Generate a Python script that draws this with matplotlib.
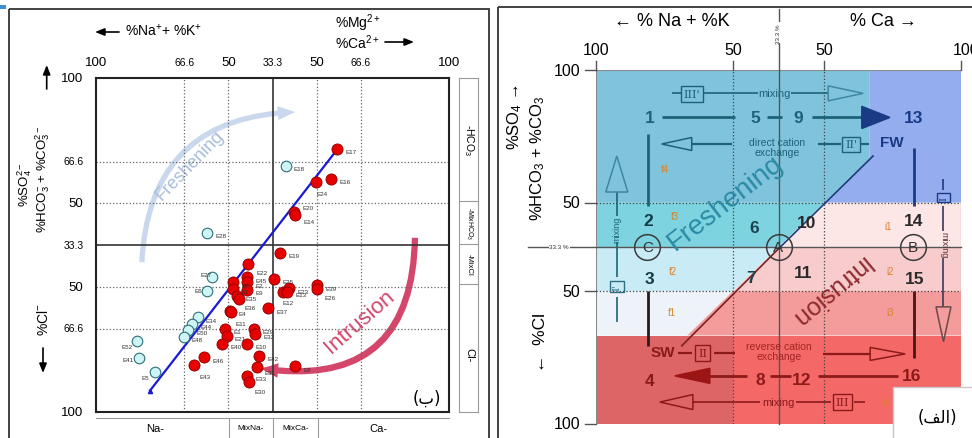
import matplotlib
matplotlib.use("Agg")
import matplotlib.pyplot as plt
from matplotlib.patches import FancyArrowPatch, Rectangle, Polygon

plt.rcParams["font.family"] = ["Liberation Sans", "DejaVu Sans"]
plt.rcParams["mathtext.fontset"] = "custom"
plt.rcParams["mathtext.rm"] = "Liberation Sans"
plt.rcParams["mathtext.it"] = "Liberation Sans:italic"
plt.rcParams["mathtext.bf"] = "Liberation Sans:bold"

W, H = 972, 439

# ---------------- data ----------------
# diagram positions (0-100 across, 0-100 upwards) and the printed percentages
grid_pos = [0, 25, 37.5, 50, 62.5, 75, 100]
top_labels = ["100", "66.6", "50", "33.3", "50", "66.6", "100"]
side_labels = ["100", "66.6", "50", "33.3", "50", "66.6", "100"]  # bottom -> top

# left panel (ب): samples
red_names = ["E17", "E16", "E24", "E20", "E14", "E19", "E22", "E45", "E2", "E9",
             "E7", "E3", "E35", "E36", "E4", "E11", "E25", "E37", "E12", "E23",
             "E13", "E39", "E26", "E1", "E21", "E40", "E29", "E32", "E10", "E42",
             "E31", "E8", "E33", "E30", "E46", "E43"]
red_x = [68.4, 66.6, 62.2, 56.1, 56.4, 52.1, 43.2, 42.7, 42.7, 42.9,
         38.9, 38.7, 39.9, 40.6, 38.0, 38.2, 50.5, 48.8, 52.9, 54.8,
         54.2, 62.7, 62.7, 36.5, 37.0, 35.6, 44.8, 45.0, 42.7, 46.3,
         45.7, 56.4, 42.7, 43.3, 30.7, 27.8]
red_y = [78.7, 69.8, 68.8, 60.0, 59.0, 47.6, 44.3, 40.3, 38.8, 36.6,
         38.8, 36.8, 34.8, 33.8, 30.3, 29.8, 39.8, 31.0, 36.0, 37.0,
         36.0, 37.9, 36.9, 24.9, 22.7, 20.4, 24.9, 23.4, 20.4, 16.9,
         13.4, 13.7, 10.9, 8.9, 16.4, 14.1]

cyan_names = ["E18", "E28", "E27", "E6", "E34", "E44", "E50", "E48", "E52", "E41", "E5"]
cyan_x = [53.7, 31.4, 32.8, 31.4, 28.8, 27.3, 26.0, 24.8, 11.5, 12.3, 16.8]
cyan_y = [73.6, 53.6, 40.3, 36.3, 28.3, 26.3, 24.5, 22.6, 21.3, 16.1, 11.9]

trend_x = [15.3, 68.4]
trend_y = [6.4, 78.7]

# right panel (الف): facies numbers
facies = ["1", "5", "9", "13", "2", "6", "10", "14", "3", "7", "11", "15", "4", "8", "12", "16"]
facies_x = [14.6, 43.6, 55.4, 86.9, 14.3, 43.3, 57.7, 86.9, 14.6, 42.4, 56.8, 87.4, 14.8, 44.9, 56.4, 86.5]
facies_y = [86.6, 86.6, 86.6, 86.6, 57.4, 55.5, 57.0, 57.4, 41.2, 41.4, 42.7, 41.0, 12.2, 12.7, 12.7, 13.6]
sub_names = ["f1", "f2", "f3", "f4", "i1", "i2", "i3", "i4"]
sub_x = [20.7, 21.2, 21.6, 18.9, 80.1, 80.5, 80.5, 79.6]
sub_y = [31.5, 43.3, 58.8, 72.0, 56.0, 43.3, 31.7, 6.2]

# ---------------- figure ----------------
fig = plt.figure(figsize=(W / 100, H / 100), dpi=100)
ov = fig.add_axes([0, 0, 1, 1])
ov.set_xlim(0, W)
ov.set_ylim(H, 0)
ov.axis("off")


def px_axes(x0, y0, x1, y1):
    return fig.add_axes([x0 / W, (H - y1) / H, (x1 - x0) / W, (y1 - y0) / H])


axL = px_axes(96, 79, 449, 413)
axR = px_axes(596, 71, 961, 425)
axL.patch.set_visible(False)

# outer frames
ov.add_patch(Rectangle((9, 10), 480, 440, fill=False, ec="#333333", lw=1.3))
ov.add_patch(Rectangle((498, 8), 490, 440, fill=False, ec="#333333", lw=1.3))
ov.add_patch(Rectangle((0, 6), 6, 4, color="#3d8fd6", lw=0))


def harrow(x0, y0, x1, y1, lw=1.2):
    ov.annotate("", xy=(x1, y1), xytext=(x0, y0),
                arrowprops=dict(arrowstyle="-|>,head_length=0.55,head_width=0.22",
                                color="black", lw=lw, shrinkA=0, shrinkB=0))


# ================= left panel =================
axL.set_xlim(0, 100)
axL.set_ylim(0, 100)
axL.set_xticks([])
axL.set_yticks([])
for s in axL.spines.values():
    s.set_linewidth(1.5)
    s.set_color("#222222")
for p in [25, 37.5, 62.5, 75]:
    axL.axvline(p, ls=":", color="#666666", lw=0.9, zorder=1)
    axL.axhline(p, ls=":", color="#666666", lw=0.9, zorder=1)
axL.axvline(50, color="#333333", lw=1.2, zorder=1)
axL.axhline(50, color="#333333", lw=1.2, zorder=1)

for p, lab in zip(grid_pos, top_labels):
    fs = 7.5 if "." in lab else 9.5
    axL.text(p, 104.9, lab, ha="center", va="center", fontsize=fs, clip_on=False)
for p, lab in zip(grid_pos, side_labels):
    fs = 7.5 if "." in lab else 9.5
    axL.text(-3.5, p, lab, ha="right", va="center", fontsize=fs, clip_on=False)

# freshening / intrusion arcs
ov.add_patch(FancyArrowPatch((141.7, 266), (298, 113), connectionstyle="arc3,rad=-0.47",
                             arrowstyle="simple,head_length=1.25,head_width=1.0,tail_width=0.38",
                             mutation_scale=10, color="#cad8ee", lw=0, zorder=2))
ov.add_patch(FancyArrowPatch((415, 236), (258, 369), connectionstyle="arc3,rad=-0.58",
                             arrowstyle="simple,head_length=1.25,head_width=1.05,tail_width=0.45",
                             mutation_scale=10, color="#d4466a", lw=0, zorder=2))
ov.text(190, 166, "Freshening", rotation=46, ha="center", va="center",
        fontsize=13, color="#a9bddb")
ov.text(360, 322, "Intrusion", rotation=41, ha="center", va="center",
        fontsize=16, color="#d3486c")

axL.plot(trend_x, trend_y, color="#1a1ad6", lw=1.6, zorder=3)
axL.plot(trend_x[0], trend_y[0], marker="^", ms=3, color="#1a1ad6", zorder=3)
axL.scatter(cyan_x, cyan_y, s=58, c="#cdf5f5", edgecolors="#2e6f7a", linewidths=0.8,
            zorder=4, clip_on=False)
axL.scatter(red_x, red_y, s=64, c="#e60000", edgecolors="#8a0000", linewidths=0.6,
            zorder=5, clip_on=False)

offsets = {"E24": (1, -8), "E14": (6, -5), "E20": (6, 3), "E22": (6, -6),
           "E11": (3, -8), "E52": (-11, -4), "E41": (-12, -1), "E5": (-10, -4),
           "E27": (-8, 2), "E6": (-9, 0), "E43": (4, -8), "E30": (4, -7),
           "E31": (5, -4), "E36": (4, -6), "E12": (0, -8), "E26": (5, -6)}
for n, x, y in zip(red_names + cyan_names, red_x + cyan_x, red_y + cyan_y):
    axL.annotate(n, (x, y), xytext=offsets.get(n, (6, -2)), textcoords="offset points",
                 fontsize=4.5, color="#333333", va="center", zorder=6)

ov.text(427, 399, "(\u0628)", ha="center", va="center", fontsize=12,
        family=["DejaVu Sans"])

# side strip and bottom strip
gc = "#9a9a9a"
ov.plot([459, 459], [79, 413], color=gc, lw=0.8)
ov.plot([478, 478], [79, 413], color=gc, lw=0.8)
for y in [79, 201.7, 245, 285, 413]:
    ov.plot([459, 478], [y, y], color=gc, lw=0.8)
ov.text(469, 140, "-HCO$_3$", rotation=-90, ha="center", va="center", fontsize=7.5)
ov.text(469, 224, "-MixHCO$_3$", rotation=-90, ha="center", va="center", fontsize=5)
ov.text(469, 265, "-MixCl", rotation=-90, ha="center", va="center", fontsize=5.5)
ov.text(469, 355, "Cl-", rotation=-90, ha="center", va="center", fontsize=8)
ov.plot([96, 449], [419.5, 419.5], color=gc, lw=0.8)
for x in [228.7, 273.3, 317.7]:
    ov.plot([x, x], [419.5, 439], color=gc, lw=0.8)
ov.text(155, 429, "Na-", ha="center", va="center", fontsize=8)
ov.text(251, 429, "MixNa-", ha="center", va="center", fontsize=6)
ov.text(296, 429, "MixCa-", ha="center", va="center", fontsize=6)
ov.text(378, 429, "Ca-", ha="center", va="center", fontsize=8)

# axis titles (left)
harrow(119, 33, 95, 33)
ov.text(125, 31, "%Na$^{+}$+ %K$^{+}$", ha="left", va="center", fontsize=10)
ov.text(335, 23, "%Mg$^{2+}$", ha="left", va="center", fontsize=10)
ov.text(335, 43, "%Ca$^{2+}$", ha="left", va="center", fontsize=10)
harrow(385, 43, 414, 43)
harrow(46.7, 90, 46.7, 66)
ov.text(25, 185, "%SO$_4^{2-}$", rotation=90, ha="center", va="center", fontsize=9.5)
ov.text(43, 179, "%HCO$_3^{-}$ + %CO$_3^{2-}$", rotation=90, ha="center", va="center",
        fontsize=9.5)
ov.text(43, 320, "%Cl$^{-}$", rotation=90, ha="center", va="center", fontsize=10)
harrow(43, 349, 43, 374)

# ================= right panel =================
axR.set_xlim(0, 100)
axR.set_ylim(0, 100)
axR.axis("off")
Sx, Sy = 3.65, 3.54  # pixels per diagram unit

regions = [
    ([(0, 62.5), (0, 100), (75, 100), (75, 75), (62.5, 62.5)], "#7fc3dc"),
    ([(75, 100), (100, 100), (100, 62.5), (62.5, 62.5), (75, 75)], "#94adef"),
    ([(0, 50), (0, 62.5), (62.5, 62.5), (50, 50)], "#7dd3df"),
    ([(50, 50), (62.5, 62.5), (100, 62.5), (100, 50)], "#fde6e6"),
    ([(0, 37.5), (0, 50), (50, 50), (37.5, 37.5)], "#c9ebf6"),
    ([(37.5, 37.5), (50, 50), (100, 50), (100, 37.5)], "#f8cccc"),
    ([(0, 25), (0, 37.5), (37.5, 37.5), (25, 25)], "#eef3f9"),
    ([(25, 25), (37.5, 37.5), (100, 37.5), (100, 25)], "#f49b9b"),
    ([(0, 0), (0, 25), (37.5, 25), (37.5, 0)], "#de6565"),
    ([(37.5, 0), (37.5, 25), (100, 25), (100, 0)], "#f56868"),
]
for pts, col in regions:
    axR.add_patch(Polygon(pts, closed=True, fc=col, ec="none", zorder=1))
axR.add_patch(Rectangle((0, 0), 100, 100, fill=False, ec="#8a8a8a", lw=0.8, zorder=2))

for p in [37.5, 62.5]:
    axR.plot([p, p], [0, 100], ls=":", color="#444444", lw=0.9, zorder=3)
    axR.plot([0, 100], [p, p], ls=":", color="#444444", lw=0.9, zorder=3)
axR.plot([50, 50], [0, 117.2], color="#555555", lw=1.0, zorder=3, clip_on=False)
axR.plot([-18.6, 100], [50, 50], color="#555555", lw=1.0, zorder=3, clip_on=False)
axR.text(50, 110.5, "33.3 %", rotation=90, ha="center", va="center", fontsize=4.5,
         color="#333333", clip_on=False, zorder=4,
         bbox=dict(fc="white", ec="none", pad=0.5))
axR.text(-10.1, 50, "33.3 %", ha="center", va="center", fontsize=4.5, color="#333333",
         clip_on=False, zorder=4, bbox=dict(fc="white", ec="none", pad=0.5))

# diagonal SW-FW
axR.plot([23.5, 50], [22.1, 49.5], color="#7a2222", lw=1.2, zorder=3)
axR.plot([50, 75.9], [49.5, 75.7], color="#1c3c7c", lw=1.2, zorder=3)

# ticks and labels
for p, lab in zip([0, 37.5, 62.5, 100], ["100", "50", "50", "100"]):
    axR.plot([p, p], [100, 102.6], color="#555555", lw=1, clip_on=False)
    axR.text(p + (1.5 if p == 100 else 0), 105.9, lab, ha="center", va="center",
             fontsize=11.5, clip_on=False)
for p, lab in zip([100, 62.5, 37.5, 0], ["100", "50", "50", "100"]):
    axR.plot([-3, 0], [p, p], color="#555555", lw=1, clip_on=False)
    axR.text(-4.4, p, lab, ha="right", va="center", fontsize=11.5, clip_on=False)
ov.text(672, 22, "\u2190 % Na + %K", ha="center", va="center", fontsize=13)
ov.text(883, 22, "% Ca \u2192", ha="center", va="center", fontsize=13)
ov.text(515, 117, "%SO$_4$ \u2192", rotation=90, ha="center", va="center", fontsize=12)
ov.text(538, 158, "%HCO$_3$ + %CO$_3$", rotation=90, ha="center", va="center",
        fontsize=12)
ov.text(540, 343, "\u2190  %Cl", rotation=90, ha="center", va="center", fontsize=12.5)

teal, navy, dred = "#1d6378", "#1b3a86", "#8c1a1a"


def seg(u0, w0, u1, w1, color, lw=1.2):
    axR.plot([u0, u1], [w0, w1], color=color, lw=lw, solid_capstyle="butt", zorder=5)


def tri(u, w, d, L, Hh, color, filled):
    if d == "r":
        pts = [(u, w), (u - L / Sx, w + Hh / Sy), (u - L / Sx, w - Hh / Sy)]
    elif d == "l":
        pts = [(u, w), (u + L / Sx, w + Hh / Sy), (u + L / Sx, w - Hh / Sy)]
    elif d == "u":
        pts = [(u, w), (u - Hh / Sx, w - L / Sy), (u + Hh / Sx, w - L / Sy)]
    else:
        pts = [(u, w), (u - Hh / Sx, w + L / Sy), (u + Hh / Sx, w + L / Sy)]
    axR.add_patch(Polygon(pts, closed=True, fc=color if filled else "none", ec=color,
                          lw=1.1, zorder=6))


def box(u, w, s, color, rot=0, fs=8):
    axR.text(u, w, s, ha="center", va="center", fontsize=fs, rotation=rot, color=color,
             family="DejaVu Serif", zorder=6,
             bbox=dict(boxstyle="square,pad=0.25", fc="none", ec=color, lw=1.0))


def lab(u, w, s, color, fs=7.5, rot=0, **kw):
    axR.text(u, w, s, ha="center", va="center", fontsize=fs, color=color, rotation=rot,
             zorder=7, **kw)


# big process words
lab(35.3, 62.7, "Freshening", "#2b8ba4", fs=20, rot=38)
lab(64.1, 37.9, "Intrusion", "#8e2b30", fs=18, rot=220)

# top mixing row
seg(20.7, 93.4, 23.2, 93.4, teal)
box(26.2, 93.2, "III'", teal)
seg(29.3, 93.4, 44.3, 93.4, teal)
lab(48.8, 93.4, "mixing", teal, fs=8)
seg(53.3, 93.4, 63.6, 93.4, teal)
tri(73.2, 93.4, "r", 35, 7.5, "#3f88a2", False)

# facies path 1-5-9-13
seg(18.0, 86.6, 38.1, 86.6, teal, 2)
seg(46.8, 86.6, 51.0, 86.6, teal, 2)
seg(59.1, 86.6, 72.9, 86.6, teal, 2)
tri(80.5, 86.6, "r", 28, 11, navy, True)

# direct cation exchange
tri(18.0, 79.1, "l", 30, 6.5, teal, False)
seg(26.2, 79.1, 37.2, 79.1, teal, 1.6)
lab(49.5, 78.2, "direct cation\nexchange", teal, fs=7.5, linespacing=1.0)
seg(60.8, 79.1, 67.0, 79.1, teal, 1.6)
box(69.9, 79.0, "II'", teal)
seg(72.7, 79.1, 74.8, 79.1, teal, 1.6)
lab(81.0, 79.6, "FW", navy, fs=11, fontweight="bold")

# vertical facies links
seg(14.3, 81.9, 14.3, 61.6, teal, 2)
seg(14.3, 37.6, 14.3, 22.0, "#2a1a1a", 2)
seg(87.1, 78.0, 87.1, 61.6, navy, 2)
seg(87.1, 37.6, 87.1, 18.6, "#4a1515", 2)

# left mixing arrow
seg(5.7, 28.8, 5.7, 36.0, teal)
box(5.7, 38.8, "I'", "#2d6f83", rot=90, fs=7)
seg(5.7, 41.6, 5.7, 51.4, teal)
lab(5.7, 55.1, "mixing", teal, fs=6.5, rot=90)
seg(5.7, 58.8, 5.7, 65.5, teal)
tri(5.7, 75.7, "u", 36, 11, "#3f88a2", False)

# right mixing arrow
seg(95.2, 69.2, 95.2, 66.2, navy)
box(95.2, 63.9, "I", navy, rot=90, fs=7)
seg(95.2, 61.6, 95.2, 54.6, "#3a3a5a")
lab(95.2, 50.9, "mixing", "#553333", fs=6.5, rot=-90)
seg(95.2, 46.8, 95.2, 33.1, "#3a3a5a")
tri(95.2, 23.2, "d", 35, 7.5, "#6a4a4a", False)

# SW row: reverse cation exchange
lab(18.4, 20.2, "SW", dred, fs=11, fontweight="bold")
seg(22.6, 20.0, 26.2, 20.0, dred, 1.6)
box(29.2, 20.0, "II", dred)
seg(32.2, 20.0, 38.1, 20.0, dred, 1.6)
lab(50.2, 20.7, "reverse cation\nexchange", "#a32424", fs=7.5, linespacing=1.0)
seg(62.3, 19.8, 75.2, 19.8, dred, 1.6)
tri(84.7, 19.8, "r", 35, 6.5, dred, False)

# facies path 16-12-8-4
tri(21.6, 13.6, "l", 35, 7.5, "#9b1515", True)
seg(31.0, 13.6, 41.3, 13.6, dred, 2)
seg(47.7, 13.6, 53.3, 13.6, dred, 2)
seg(60.9, 13.6, 82.8, 13.6, dred, 2)

# bottom mixing row
tri(17.5, 6.2, "l", 33, 7.5, dred, False)
seg(26.5, 6.2, 45.0, 6.2, dred)
lab(49.9, 6.2, "mixing", dred, fs=8)
seg(54.8, 6.2, 64.4, 6.2, dred)
box(67.5, 6.2, "III", dred)
seg(70.7, 6.2, 73.7, 6.2, dred)

# numbers, circles, sub-facies
num_colors = [teal, teal, teal, navy,
              "#123b47", "#1b4450", "#2a2a2a", "#2a2a2a",
              "#123b47", "#1b4450", "#2a2a2a", "#2a2a2a",
              dred, dred, dred, dred]
for s, u, w, c in zip(facies, facies_x, facies_y, num_colors):
    lab(u, w, s, c, fs=12.5, fontweight="bold")
for s, u, w in zip(sub_names, sub_x, sub_y):
    lab(u, w, s, "#d9822b", fs=7)
for s, u in [("A", 50.0), ("B", 86.9), ("C", 14.1)]:
    axR.plot(u, 50, marker="o", ms=18.5, mfc="none", mec="#3a3a3a", mew=1.1, zorder=6)
    lab(u, 50, s, "#333333", fs=11)

# label box (الف)
axR.add_patch(Rectangle((893, 388), 90, 60, transform=ov.transData, fc="white",
                        ec="#c8c8c8", lw=1.0, zorder=20, clip_on=False))
axR.text(937, 418, "(\ufed2\ufedf\u0627)", transform=ov.transData, ha="center",
         va="center", fontsize=12, family=["DejaVu Sans"], zorder=21, clip_on=False)

fig.savefig("out.png", dpi=100)
